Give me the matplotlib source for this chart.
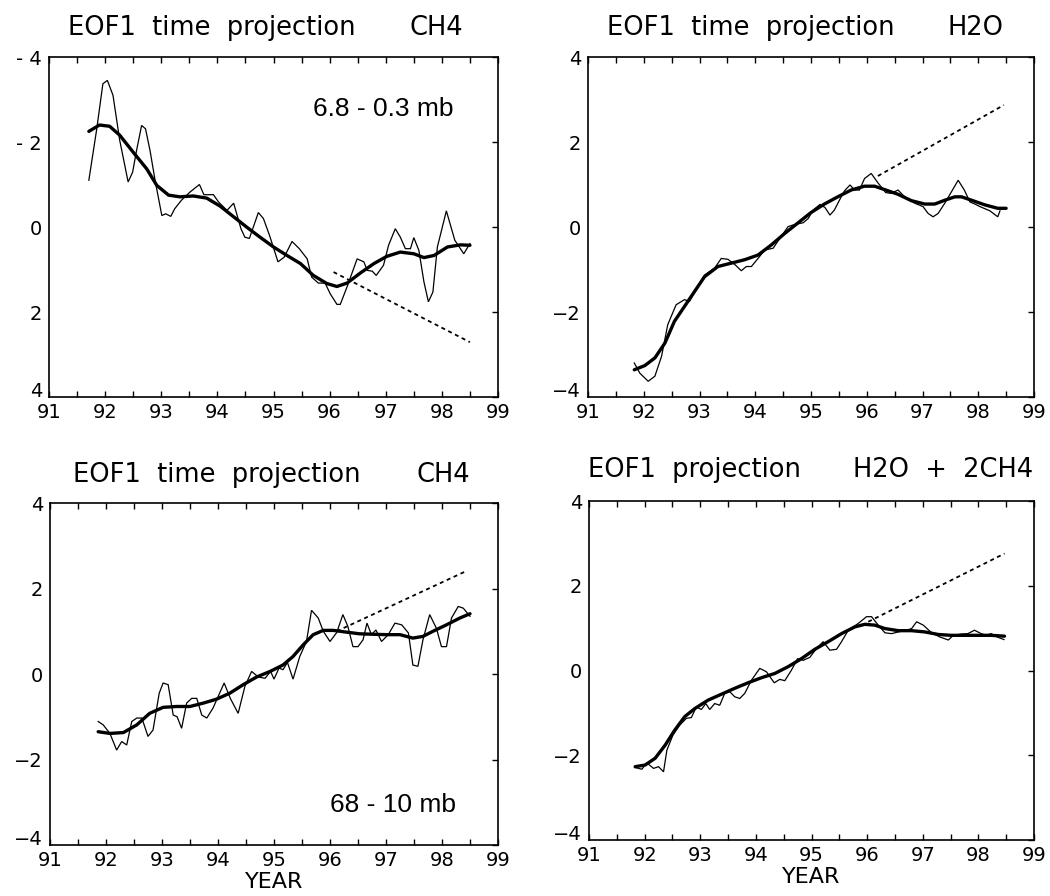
import matplotlib
matplotlib.use("Agg")
from matplotlib import pyplot as plt
from matplotlib.ticker import MultipleLocator

# CH4, 6.8 - 0.3 mb (upper left, plotted with the axis flipped)
ch4_up_raw_t = [91.71, 91.85, 91.96, 92.04, 92.14, 92.26, 92.41, 92.49, 92.56, 92.65, 92.72, 92.80,
                92.89, 93.01, 93.08, 93.17, 93.24, 93.36, 93.51, 93.68, 93.76, 93.93, 94.02, 94.17,
                94.29, 94.42, 94.49, 94.57, 94.73, 94.82, 94.93, 95.08, 95.19, 95.33, 95.46, 95.60,
                95.68, 95.80, 95.92, 96.01, 96.13, 96.19, 96.31, 96.49, 96.61, 96.67, 96.76, 96.83,
                96.96, 97.05, 97.17, 97.26, 97.35, 97.44, 97.50, 97.59, 97.68, 97.76, 97.84, 97.92,
                98.08, 98.23, 98.39, 98.50]
ch4_up_raw = [-1.10, -2.30, -3.37, -3.45, -3.10, -2.04, -1.06, -1.29, -1.80, -2.39, -2.31, -1.80,
              -1.10, -0.27, -0.31, -0.25, -0.43, -0.63, -0.82, -1.00, -0.76, -0.76, -0.59, -0.39,
              -0.56, 0.04, 0.24, 0.27, -0.34, -0.20, 0.20, 0.82, 0.71, 0.34, 0.51, 0.75,
              1.18, 1.32, 1.32, 1.57, 1.82, 1.82, 1.41, 0.75, 0.82, 1.02, 1.04, 1.14,
              0.90, 0.43, 0.04, 0.24, 0.51, 0.51, 0.25, 0.55, 1.29, 1.76, 1.53, 0.47,
              -0.38, 0.31, 0.63, 0.39]
ch4_up_fit_t = [91.71, 91.90, 92.08, 92.26, 92.50, 92.74, 92.92, 93.13, 93.33, 93.57, 93.81, 94.05,
                94.29, 94.52, 94.76, 95.00, 95.24, 95.48, 95.71, 95.95, 96.13, 96.31, 96.55, 96.79,
                97.02, 97.26, 97.50, 97.68, 97.86, 98.10, 98.33, 98.50]
ch4_up_fit = [-2.25, -2.40, -2.37, -2.16, -1.76, -1.37, -0.98, -0.75, -0.71, -0.73, -0.68, -0.49,
              -0.24, 0.00, 0.24, 0.47, 0.67, 0.86, 1.14, 1.33, 1.40, 1.32, 1.08, 0.86,
              0.69, 0.59, 0.63, 0.72, 0.67, 0.47, 0.42, 0.43]
ch4_up_trend_t = [96.07, 98.50]
ch4_up_trend = [1.06, 2.71]

# H2O
h2o_raw_t = [91.83, 91.93, 92.08, 92.20, 92.32, 92.43, 92.58, 92.73, 92.82, 92.97, 93.09, 93.18,
             93.27, 93.39, 93.51, 93.64, 93.75, 93.84, 93.93, 94.05, 94.17, 94.32, 94.44, 94.59,
             94.71, 94.86, 94.95, 95.04, 95.16, 95.25, 95.34, 95.42, 95.51, 95.60, 95.70, 95.78,
             95.87, 95.96, 96.08, 96.20, 96.34, 96.44, 96.56, 96.68, 96.86, 97.01, 97.10, 97.19,
             97.28, 97.40, 97.52, 97.64, 97.75, 97.85, 97.94, 98.03, 98.21, 98.35, 98.39]
h2o_raw = [-3.20, -3.44, -3.63, -3.51, -3.04, -2.30, -1.83, -1.71, -1.75, -1.40, -1.13, -1.05,
           -0.97, -0.74, -0.76, -0.89, -1.03, -0.93, -0.93, -0.74, -0.54, -0.50, -0.27, 0.01,
           0.06, 0.10, 0.20, 0.40, 0.53, 0.46, 0.28, 0.40, 0.63, 0.85, 0.99, 0.87,
           0.87, 1.14, 1.26, 1.04, 0.81, 0.79, 0.87, 0.71, 0.56, 0.48, 0.32, 0.24,
           0.32, 0.56, 0.83, 1.10, 0.87, 0.59, 0.54, 0.48, 0.38, 0.24, 0.38]
h2o_fit_t = [91.83, 92.02, 92.20, 92.38, 92.55, 92.73, 92.91, 93.09, 93.33, 93.57, 93.81, 94.05,
             94.29, 94.53, 94.77, 95.00, 95.24, 95.48, 95.72, 95.96, 96.14, 96.32, 96.56, 96.80,
             97.04, 97.22, 97.40, 97.58, 97.70, 97.88, 98.12, 98.35, 98.50]
h2o_fit = [-3.36, -3.26, -3.08, -2.73, -2.22, -1.87, -1.52, -1.17, -0.93, -0.85, -0.77, -0.66,
           -0.42, -0.15, 0.10, 0.34, 0.54, 0.71, 0.87, 0.96, 0.96, 0.88, 0.77, 0.62,
           0.54, 0.54, 0.63, 0.71, 0.71, 0.63, 0.52, 0.44, 0.44]
h2o_trend_t = [96.20, 98.46]
h2o_trend = [1.20, 2.87]

# CH4, 68 - 10 mb
ch4_lo_raw_t = [91.86, 91.95, 92.07, 92.19, 92.28, 92.37, 92.46, 92.55, 92.64, 92.75, 92.84, 92.95,
                93.02, 93.11, 93.20, 93.27, 93.35, 93.44, 93.53, 93.62, 93.71, 93.80, 93.91, 94.11,
                94.22, 94.36, 94.48, 94.60, 94.72, 94.84, 94.94, 95.00, 95.09, 95.16, 95.24, 95.34,
                95.46, 95.58, 95.67, 95.79, 95.88, 96.00, 96.12, 96.23, 96.32, 96.41, 96.50, 96.59,
                96.66, 96.74, 96.82, 96.92, 97.04, 97.16, 97.28, 97.40, 97.48, 97.57, 97.66, 97.78,
                97.90, 97.99, 98.08, 98.17, 98.29, 98.38, 98.50]
ch4_lo_raw = [-1.11, -1.19, -1.39, -1.78, -1.58, -1.66, -1.11, -1.03, -1.03, -1.46, -1.31, -0.45,
              -0.21, -0.25, -0.96, -1.00, -1.27, -0.68, -0.57, -0.57, -0.96, -1.03, -0.80, -0.21,
              -0.57, -0.92, -0.29, 0.06, -0.07, -0.10, 0.06, -0.12, 0.14, 0.10, 0.27, -0.12,
              0.41, 0.76, 1.49, 1.31, 1.00, 0.76, 0.97, 1.39, 1.11, 0.64, 0.64, 0.80,
              1.19, 0.92, 1.03, 0.76, 0.92, 1.19, 1.15, 0.96, 0.21, 0.18, 0.80, 1.39,
              1.07, 0.64, 0.64, 1.31, 1.58, 1.54, 1.35]
ch4_lo_fit_t = [91.86, 92.07, 92.31, 92.55, 92.78, 93.02, 93.26, 93.50, 93.74, 93.97, 94.21, 94.45,
                94.69, 94.93, 95.16, 95.34, 95.52, 95.70, 95.88, 96.06, 96.29, 96.53, 96.77, 97.01,
                97.25, 97.48, 97.66, 97.84, 98.08, 98.32, 98.50]
ch4_lo_fit = [-1.35, -1.39, -1.37, -1.19, -0.92, -0.78, -0.76, -0.76, -0.68, -0.59, -0.45, -0.25,
              -0.07, 0.06, 0.21, 0.41, 0.68, 0.92, 1.02, 1.02, 0.98, 0.94, 0.93, 0.92,
              0.92, 0.84, 0.88, 1.00, 1.15, 1.31, 1.41]
ch4_lo_trend_t = [96.12, 98.42]
ch4_lo_trend = [1.00, 2.40]

# H2O + 2CH4
sum_raw_t = [91.83, 91.95, 92.04, 92.16, 92.25, 92.34, 92.40, 92.51, 92.63, 92.75, 92.84, 92.93,
             93.02, 93.10, 93.17, 93.26, 93.35, 93.44, 93.53, 93.62, 93.71, 93.80, 93.92, 94.07,
             94.19, 94.33, 94.43, 94.52, 94.64, 94.75, 94.85, 94.97, 95.09, 95.21, 95.33, 95.45,
             95.54, 95.66, 95.84, 95.99, 96.08, 96.20, 96.32, 96.44, 96.56, 96.68, 96.80, 96.89,
             97.01, 97.16, 97.31, 97.46, 97.55, 97.69, 97.81, 97.93, 98.05, 98.14, 98.23, 98.34,
             98.46]
sum_raw = [-2.29, -2.33, -2.18, -2.31, -2.27, -2.39, -1.88, -1.52, -1.29, -1.13, -1.11, -0.86,
           -0.92, -0.78, -0.92, -0.78, -0.82, -0.54, -0.50, -0.62, -0.66, -0.54, -0.23, 0.05,
           -0.03, -0.29, -0.21, -0.24, 0.01, 0.28, 0.24, 0.31, 0.52, 0.68, 0.48, 0.50,
           0.68, 0.95, 1.11, 1.27, 1.27, 1.07, 0.89, 0.87, 0.91, 0.94, 0.99, 1.15,
           1.07, 0.89, 0.79, 0.72, 0.83, 0.86, 0.87, 0.95, 0.87, 0.83, 0.87, 0.79,
           0.73]
sum_fit_t = [91.83, 92.01, 92.19, 92.37, 92.54, 92.72, 92.90, 93.14, 93.38, 93.62, 93.86, 94.10,
             94.34, 94.58, 94.82, 95.06, 95.30, 95.54, 95.78, 95.96, 96.14, 96.32, 96.56, 96.80,
             97.04, 97.28, 97.51, 97.75, 97.99, 98.23, 98.47]
sum_fit = [-2.27, -2.23, -2.07, -1.76, -1.41, -1.09, -0.90, -0.70, -0.56, -0.42, -0.29, -0.17,
           -0.07, 0.09, 0.28, 0.50, 0.68, 0.87, 1.03, 1.09, 1.07, 0.99, 0.94, 0.94,
           0.91, 0.85, 0.83, 0.83, 0.83, 0.83, 0.81]
sum_trend_t = [96.02, 98.47]
sum_trend = [1.15, 2.76]

years = [91, 92, 93, 94, 95, 96, 97, 98, 99]
yvals = [-4, -2, 0, 2, 4]

W, H = 1050, 896
fig = plt.figure(figsize=(W / 100, H / 100), dpi=100)
fig.patch.set_facecolor("white")

TICK_FONT = 14
TITLE_FONT = 18.5


def px_axes(left, top, right, bottom):
    # axes box given in pixel coords (origin top-left)
    return fig.add_axes([left / W, 1 - bottom / H, (right - left) / W, (bottom - top) / H])


def setup(ax, ylabels, flip=False):
    ax.set_xlim(91, 99)
    if flip:
        ax.set_ylim(4, -4)
    else:
        ax.set_ylim(-4, 4)
    ax.set_xticks(years)
    ax.set_xticklabels([str(y) for y in years])
    ax.xaxis.set_minor_locator(MultipleLocator(0.5))
    ax.set_yticks(yvals)
    ax.set_yticklabels(ylabels)
    ax.tick_params(axis="x", which="both", direction="in", top=True, bottom=True,
                   length=4.5, width=1.0, labelsize=TICK_FONT, pad=4)
    ax.tick_params(axis="y", which="both", direction="in", left=False, right=True,
                   labelleft=True, length=4.5, width=1.0, labelsize=TICK_FONT, pad=5)
    # lowest y label sits on the corner, clear of the "91"
    low = ax.get_yticklabels()[-1] if flip else ax.get_yticklabels()[0]
    low.set_verticalalignment("baseline")
    for s in ax.spines.values():
        s.set_linewidth(1.2)


def draw(ax, raw_t, raw, fit_t, fit, tr_t, tr):
    ax.plot(raw_t, raw, color="black", lw=0.9, solid_joinstyle="miter")
    ax.plot(fit_t, fit, color="black", lw=2.4, solid_joinstyle="round", solid_capstyle="round")
    ax.plot(tr_t, tr, color="black", lw=1.3, linestyle=(0, (2.2, 2.0)))


def title(x_left, x_right, y, left_txt, right_txt):
    fig.text(x_left / W, 1 - y / H, left_txt, fontsize=TITLE_FONT, ha="left", va="baseline")
    fig.text(x_right / W, 1 - y / H, right_txt, fontsize=TITLE_FONT, ha="right", va="baseline")


ax1 = px_axes(49, 57, 498, 397)
setup(ax1, ["- 4", "- 2", "0", "2", "4"], flip=True)
draw(ax1, ch4_up_raw_t, ch4_up_raw, ch4_up_fit_t, ch4_up_fit, ch4_up_trend_t, ch4_up_trend)
ax1.text(96.96, -2.78, "6.8 - 0.3 mb", fontsize=19, family="Liberation Sans",
         ha="center", va="center")
title(68, 463, 35, "EOF1  time  projection", "CH4")

ax2 = px_axes(588, 57, 1034, 397)
setup(ax2, ["\u22124", "\u22122", "0", "2", "4"])
draw(ax2, h2o_raw_t, h2o_raw, h2o_fit_t, h2o_fit, h2o_trend_t, h2o_trend)
title(607, 1003, 35, "EOF1  time  projection", "H2O")

ax3 = px_axes(50, 503, 498, 845)
setup(ax3, ["\u22124", "\u22122", "0", "2", "4"])
draw(ax3, ch4_lo_raw_t, ch4_lo_raw, ch4_lo_fit_t, ch4_lo_fit, ch4_lo_trend_t, ch4_lo_trend)
ax3.text(97.13, -3.06, "68 - 10 mb", fontsize=19, family="Liberation Sans",
         ha="center", va="center")
ax3.set_xlabel("YEAR", fontsize=16, labelpad=2)
title(73, 470, 482, "EOF1  time  projection", "CH4")

ax4 = px_axes(589, 501, 1034, 840)
setup(ax4, ["\u22124", "\u22122", "0", "2", "4"])
draw(ax4, sum_raw_t, sum_raw, sum_fit_t, sum_fit, sum_trend_t, sum_trend)
ax4.set_xlabel("YEAR", fontsize=16, labelpad=2)
title(588, 1033, 477, "EOF1  projection", "H2O  +  2CH4")

fig.savefig("out.png", dpi=100)
